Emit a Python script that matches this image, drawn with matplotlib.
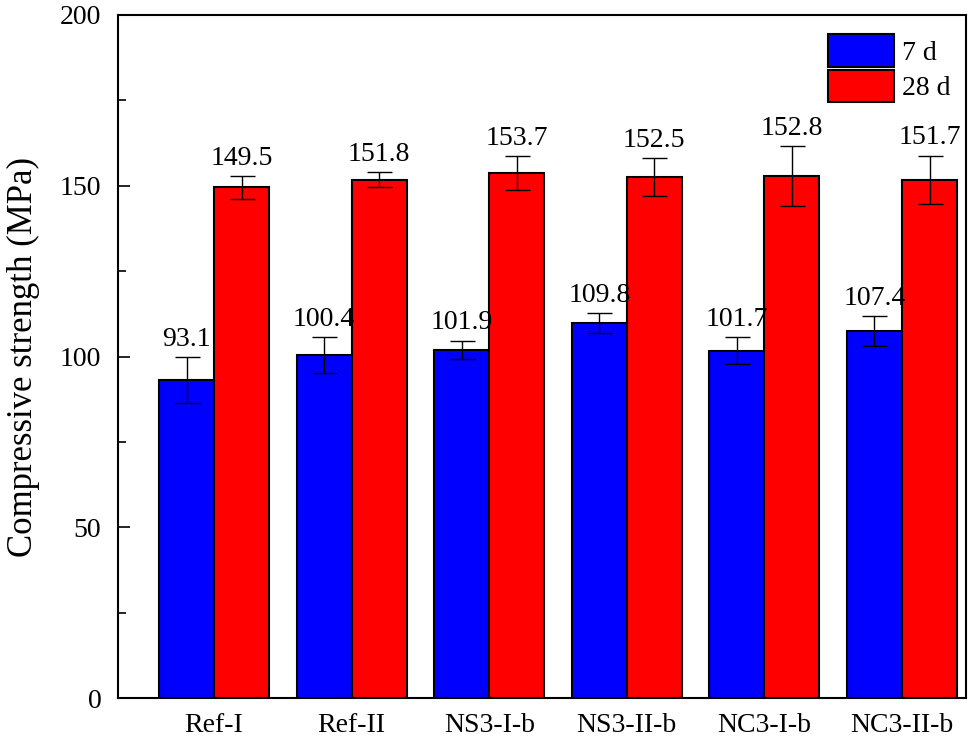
"""
Compressive strength at 7 d and 28 d, grouped bars with error bars
"""

import numpy as np
import matplotlib
matplotlib.use("Agg")
import matplotlib.pyplot as plt
from matplotlib.ticker import MultipleLocator

plt.rcParams["font.family"] = ["Liberation Serif", "DejaVu Serif"]

groups = ["Ref-I", "Ref-II", "NS3-I-b", "NS3-II-b", "NC3-I-b", "NC3-II-b"]
strength_7d = [93.1, 100.4, 101.9, 109.8, 101.7, 107.4]
strength_28d = [149.5, 151.8, 153.7, 152.5, 152.8, 151.7]
err_7d = [6.7, 5.2, 2.7, 2.9, 3.9, 4.4]
err_28d = [3.3, 2.2, 4.9, 5.5, 8.8, 7.1]

fig = plt.figure(figsize=(9.72, 7.46), dpi=100)
ax = fig.add_axes([0.1214, 0.0643, 0.8724, 0.9156])

x = np.arange(len(groups))
w = 0.4

ax.bar(x - w / 2, strength_7d, w, yerr=err_7d, color="#0000FF", edgecolor="black",
       linewidth=1.5, label="7 d",
       error_kw=dict(ecolor="black", elinewidth=1, capsize=9, capthick=1))
ax.bar(x + w / 2, strength_28d, w, yerr=err_28d, color="#FF0000", edgecolor="black",
       linewidth=1.5, label="28 d",
       error_kw=dict(ecolor="black", elinewidth=1, capsize=9, capthick=1))

# value labels above the error bars
for xi, v, e in zip(x - w / 2, strength_7d, err_7d):
    ax.annotate(f"{v:.1f}", (xi, v + e), xytext=(0, 4), textcoords="offset points",
                ha="center", va="bottom", fontsize=20)
for xi, v, e in zip(x + w / 2, strength_28d, err_28d):
    ax.annotate(f"{v:.1f}", (xi, v + e), xytext=(0, 4), textcoords="offset points",
                ha="center", va="bottom", fontsize=20)

ax.set_xlim(-0.698, len(groups) - 1 + 0.465)
ax.set_ylim(0, 200)
ax.set_xticks(x)
ax.set_xticklabels(groups)
ax.yaxis.set_major_locator(MultipleLocator(50))
ax.yaxis.set_minor_locator(MultipleLocator(25))
ax.tick_params(axis="y", which="major", direction="in", length=8.5, width=1.2,
               labelsize=20, pad=12)
ax.tick_params(axis="y", which="minor", direction="in", length=5.5, width=1.2)
ax.tick_params(axis="x", length=0, labelsize=20, pad=11)
ax.set_ylabel("Compressive strength (MPa)", fontsize=25, labelpad=14)

for s in ax.spines.values():
    s.set_linewidth(1.5)

ax.legend(loc="upper right", bbox_to_anchor=(1.005, 1.0), frameon=False, fontsize=20,
          handlelength=2.37, handleheight=1.42, labelspacing=0.1,
          handletextpad=0.3, borderaxespad=0.3)

plt.savefig("out.png", dpi=100)
